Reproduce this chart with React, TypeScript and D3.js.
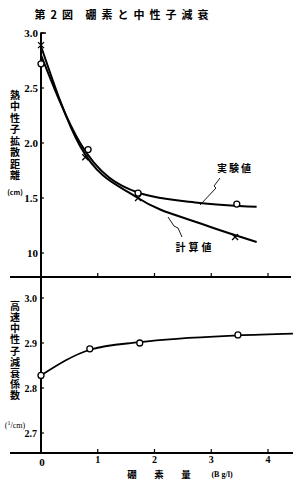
import React from 'react';
import * as d3 from 'd3';

// readings from the picture
const boron = [0, 0.83, 1.71, 3.45];
const expLength = [2.72, 1.94, 1.545, 1.445];
const calcBoron = [0, 0.78, 1.71, 3.42];
const calcLength = [2.89, 1.87, 1.5, 1.145];

// points
const expCurveX = [0, 0.69, 1.71, 2.8, 3.8];
const expCurveY = [2.8, 2.0, 1.55, 1.455, 1.42];
const calcCurveX = [0, 0.69, 1.71, 2.8, 3.8];
const calcCurveY = [2.88, 1.97, 1.5, 1.27, 1.1];

const fastBoron = [0, 0.86, 1.74, 3.47];
const fastCoef = [2.828, 2.887, 2.9, 2.918];
const fastCurveX = [0, 0.86, 1.74, 3.47, 4.44];
const fastCurveY = [2.828, 2.885, 2.902, 2.917, 2.921];

const xTicks = [1, 2, 3, 4];
const topTicks = [1.0, 1.5, 2.0, 2.5, 3.0];
const topTickLabels = ['10', '1.5', '2.0', '2.5', '3.0'];
const botTicks = [2.7, 2.8, 2.9, 3.0];
const botTickLabels = ['2.7', '2.8', '2.9', '3.0'];

const title = '第2図  硼素と中性子減衰';
const topAxisTitle = '熱中性子拡散距離';
const botAxisTitle = '高速中性子減衰係数';
const xAxisTitle = ['硼', '素', '量'];

const jp = '"Noto Sans CJK JP", sans-serif';
const num = '"Liberation Serif", serif';

const App = () => {
  const x = d3.scaleLinear().domain([0, 4]).range([41, 268]);
  const yTop = d3.scaleLinear().domain([1.0, 3.0]).range([253, 33]);
  const yBot = d3.scaleLinear().domain([2.7, 3.0]).range([433, 298]);

  const line = (xs: number[], ys: number[], y: d3.ScaleLinear<number, number>) =>
    d3
      .line<number>()
      .x((d) => x(d))
      .y((d, i) => y(ys[i]))
      .curve(d3.curveMonotoneX)(xs) || '';

  const cross = (cx: number, cy: number, r = 3) =>
    `M${cx - r},${cy - r}L${cx + r},${cy + r}M${cx - r},${cy + r}L${cx + r},${cy - r}`;

  return (
    <svg width={300} height={483} style={{ position: 'absolute', left: 0, top: 0, background: '#fff' }}>
      <text x={124} y={19} textAnchor="middle" fontFamily={jp} fontWeight="bold" fontSize={11} letterSpacing={5}>
        {title}
      </text>

      {/* axes */}
      <line x1={x(0)} x2={x(0)} y1={yTop(3.0)} y2={454} stroke="#000" strokeWidth={2} />
      <line x1={10} x2={291} y1={277} y2={277} stroke="#000" strokeWidth={2} />
      <line x1={10} x2={293} y1={453} y2={453} stroke="#000" strokeWidth={2} />
      <line x1={x(0)} x2={x(0) + 5} y1={yTop(3.0)} y2={yTop(3.0)} stroke="#000" strokeWidth={1.5} />

      {topTicks.map((t, i) => (
        <g key={'tt' + i}>
          <line x1={x(0) - 1} x2={x(0) + 3} y1={yTop(t)} y2={yTop(t)} stroke="#000" strokeWidth={1.2} />
          <text x={x(0) - 3} y={yTop(t) + 4} textAnchor="end" fontFamily={num} fontSize={11} fontWeight="bold">
            {topTickLabels[i]}
          </text>
        </g>
      ))}
      {botTicks.map((t, i) => (
        <g key={'bt' + i}>
          <line x1={x(0) - 1} x2={x(0) + 3} y1={yBot(t)} y2={yBot(t)} stroke="#000" strokeWidth={1.2} />
          <text x={x(0) - 4} y={yBot(t) + 4} textAnchor="end" fontFamily={num} fontSize={10} fontWeight="bold">
            {botTickLabels[i]}
          </text>
        </g>
      ))}
      {xTicks.map((t) => (
        <line key={'xt' + t} x1={x(t)} x2={x(t)} y1={277} y2={273} stroke="#000" strokeWidth={1.2} />
      ))}
      {xTicks.map((t) => (
        <g key={'xb' + t}>
          <line x1={x(t)} x2={x(t)} y1={453} y2={449} stroke="#000" strokeWidth={1.2} />
          <text x={x(t)} y={463} textAnchor="middle" fontFamily={num} fontSize={10} fontWeight="bold">
            {t}
          </text>
        </g>
      ))}
      <text x={x(0) + 1} y={466} textAnchor="middle" fontFamily={num} fontSize={11} fontWeight="bold">
        0
      </text>

      {/* axis titles, written vertically */}
      <text x={15} y={90} fontFamily={jp} fontWeight="bold" fontSize={10} letterSpacing={1.5}
        style={{ writingMode: 'vertical-rl' }}>
        {topAxisTitle}
      </text>
      <text x={15} y={195} textAnchor="middle" fontFamily={jp} fontWeight="bold" fontSize={7}>
        (cm)
      </text>
      <text x={15} y={301} fontFamily={jp} fontWeight="bold" fontSize={10} letterSpacing={1.2}
        style={{ writingMode: 'vertical-rl' }}>
        {botAxisTitle}
      </text>
      <text x={15} y={428} textAnchor="middle" fontFamily={num} fontSize={8}>
        (
        <tspan fontSize={6} dy={-3}>1</tspan>
        <tspan dy={3}>/cm)</tspan>
      </text>
      {xAxisTitle.map((c, i) => (
        <text key={'xa' + i} x={132 + i * 27} y={478} textAnchor="middle" fontFamily={jp} fontWeight="bold" fontSize={9.5}>
          {c}
        </text>
      ))}
      <text x={222} y={477} textAnchor="middle" fontFamily={num} fontSize={8} fontWeight="bold">
        (B g/l)
      </text>

      {/* top panel curves */}
      <path d={line(expCurveX, expCurveY, yTop)} fill="none" stroke="#000" strokeWidth={2} />
      <path d={line(calcCurveX, calcCurveY, yTop)} fill="none" stroke="#000" strokeWidth={2} />
      {boron.map((b, i) => (
        <circle key={'ec' + i} cx={x(b)} cy={yTop(expLength[i])} r={3} fill="#fff" stroke="#000" strokeWidth={1.3} />
      ))}
      {calcBoron.map((b, i) => (
        <path key={'cx' + i} d={cross(x(b), yTop(calcLength[i]))} stroke="#000" strokeWidth={1.3} />
      ))}

      {/* labels with leader lines */}
      <text x={235} y={172} textAnchor="middle" fontFamily={jp} fontWeight="bold" fontSize={10} letterSpacing={2}>
        実験値
      </text>
      <path d="M220,178 L214,186 L216,188 L200,205" fill="none" stroke="#000" strokeWidth={0.9} />
      <text x={195} y={251} textAnchor="middle" fontFamily={jp} fontWeight="bold" fontSize={10} letterSpacing={3}>
        計算値
      </text>
      <path d="M182,237 L178,228 L174,226 L168,217" fill="none" stroke="#000" strokeWidth={0.9} />

      {/* bottom panel */}
      <path d={line(fastCurveX, fastCurveY, yBot)} fill="none" stroke="#000" strokeWidth={1.8} />
      {fastBoron.map((b, i) => (
        <circle key={'fc' + i} cx={x(b)} cy={yBot(fastCoef[i])} r={3} fill="#fff" stroke="#000" strokeWidth={1.3} />
      ))}
    </svg>
  );
};

export default App;
